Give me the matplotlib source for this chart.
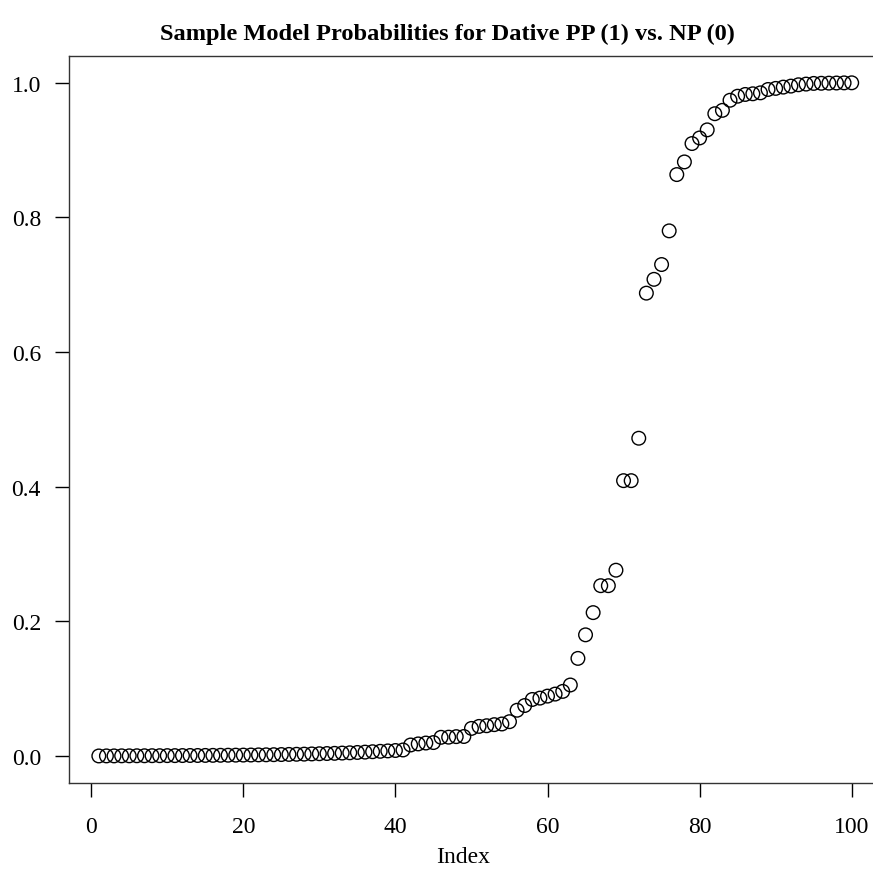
import matplotlib
matplotlib.use("Agg")
import matplotlib.pyplot as plt
import numpy as np

index = list(range(1, 101))
probs = [
    0.0001, 0.0002, 0.0002, 0.0003, 0.0003, 0.0004, 0.0004, 0.0005, 0.0005, 0.0006,
    0.0006, 0.0007, 0.0008, 0.0008, 0.0009, 0.0010, 0.0011, 0.0012, 0.0013, 0.0014,
    0.0015, 0.0017, 0.0018, 0.0020, 0.0022, 0.0024, 0.0026, 0.0028, 0.0031, 0.0034,
    0.0037, 0.0040, 0.0044, 0.0048, 0.0053, 0.0058, 0.0064, 0.0070, 0.0076, 0.0082,
    0.0090, 0.0164, 0.0180, 0.0193, 0.0200, 0.0278, 0.0280, 0.0288, 0.0290, 0.0410,
    0.0440, 0.0450, 0.0466, 0.0476, 0.0510, 0.0680, 0.0750, 0.0840, 0.0860, 0.0890,
    0.0920, 0.0960, 0.1055, 0.1450, 0.1800, 0.2130, 0.2530, 0.2530, 0.2760, 0.4090,
    0.4090, 0.4720, 0.6875, 0.7080, 0.7300, 0.7800, 0.8636, 0.8824, 0.9097, 0.9180,
    0.9300, 0.9540, 0.9590, 0.9740, 0.9800, 0.9826, 0.9836, 0.9850, 0.9900, 0.9916,
    0.9935, 0.9950, 0.9970, 0.9980, 0.9990, 0.9992, 0.9994, 0.9996, 0.9998, 0.9999,
]
xticks = [0, 20, 40, 60, 80, 100]
yticks = [0.0, 0.2, 0.4, 0.6, 0.8, 1.0]
title = "Sample Model Probabilities for Dative PP (1) vs. NP (0)"

plt.rcParams['font.family'] = ['Liberation Serif', 'DejaVu Serif']

fig = plt.figure(figsize=(8.73, 8.70), dpi=100)
ax = fig.add_axes([0.0787, 0.0989, 1.0101 - 0.0787, 0.9347 - 0.0989])
ax.scatter(index, probs, s=9.8**2, facecolors='none', edgecolors='black', linewidths=1.0)

xr = 99 * 0.04
ax.set_xlim(1 - xr, 100 + xr)
ax.set_ylim(-0.04, 1.04)
ax.set_xticks(xticks)
ax.set_xticklabels([str(t) for t in xticks])
ax.set_yticks(yticks)
ax.set_yticklabels([f"{t:.1f}" for t in yticks])
ax.tick_params(axis='both', direction='out', length=10, width=1.0, labelsize=17, colors='black')
ax.tick_params(axis='x', pad=14)
ax.tick_params(axis='y', pad=10)
for s in ax.spines.values():
    s.set_linewidth(1.0)
    s.set_color('#333333')
ax.set_xlabel("Index", fontsize=17)
ax.xaxis.set_label_coords((463.5 - 68.7) / (881.8 - 68.7), -0.087)
fig.text(447 / 873, 0.961, title, ha='center', va='center',
         fontsize=17.6, fontweight='bold')
fig.savefig("out.png", dpi=100)
